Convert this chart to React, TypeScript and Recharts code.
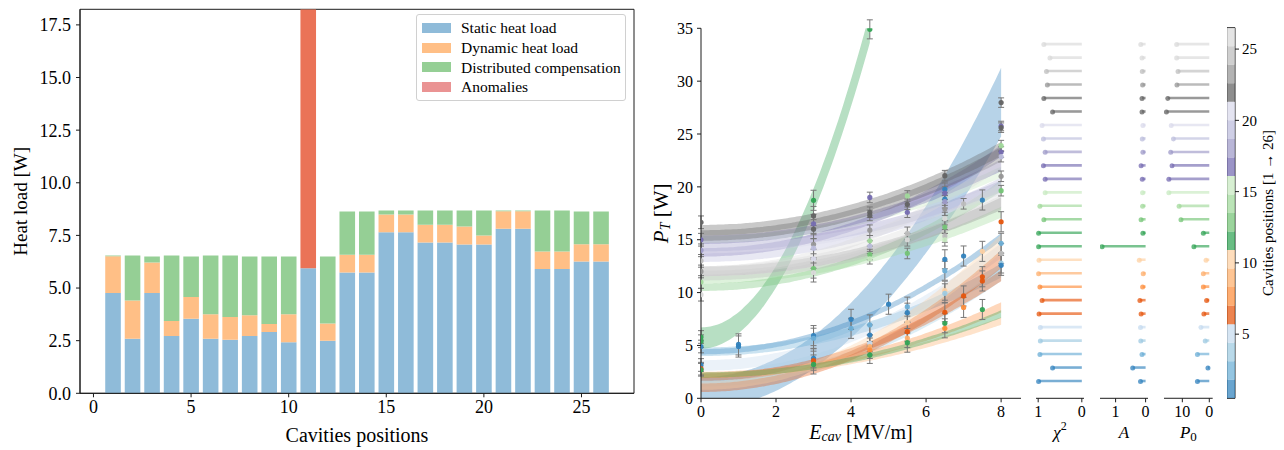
import React from "react";
import {
  ComposedChart,
  BarChart,
  Bar,
  Area,
  Scatter,
  ErrorBar,
  XAxis,
  YAxis,
  Legend,
  Cell,
  ReferenceArea,
} from "recharts";

const FONT = '"Liberation Serif", "DejaVu Serif", serif';
const INK = "#1c1c1c";

// ---------- left panel: heat load per cavity ----------
const cavities = [1, 2, 3, 4, 5, 6, 7, 8, 9, 10, 11, 12, 13, 14, 15, 16, 17, 18, 19, 20, 21, 22, 23, 24, 25, 26];
const staticLoad = [4.77, 2.59, 4.77, 2.72, 3.54, 2.59, 2.54, 2.72, 2.91, 2.43, 5.94, 2.5, 5.74, 5.74, 7.65, 7.65, 7.16, 7.16, 7.07, 7.07, 7.82, 7.82, 5.91, 5.91, 6.26, 6.26];
const dynamicLoad = [1.74, 1.82, 1.44, 0.71, 1.04, 1.16, 1.08, 0.99, 0.38, 1.32, 0, 0.82, 0.84, 0.84, 0.84, 0.84, 0.85, 0.85, 0.85, 0.42, 0.83, 0.83, 0.82, 0.82, 0.82, 0.82];
const compensation = [0.03, 2.13, 0.29, 3.11, 1.92, 2.79, 2.92, 2.79, 3.21, 2.75, 0, 3.18, 2.05, 2.05, 0.19, 0.19, 0.67, 0.67, 0.76, 1.19, 0.03, 0.03, 1.95, 1.95, 1.55, 1.55];
const anomalies = [0, 0, 0, 0, 0, 0, 0, 0, 0, 0, 12.5, 0, 0, 0, 0, 0, 0, 0, 0, 0, 0, 0, 0, 0, 0, 0];
const heatTicks = [0, 2.5, 5, 7.5, 10, 12.5, 15, 17.5];
const posTicks = [0, 5, 10, 15, 20, 25];

const seriesNames = ["Static heat load", "Dynamic heat load", "Distributed compensation", "Anomalies"];
const seriesColors = ["#8fbbd9", "#ffbf86", "#95cf95", "#ea9393"];
const anomalyOverDynamic = "#ea7357";

// ---------- right panel: fits P = P0 + A * E^2 ----------
const p0Fit = [4.4, 0.5, 4.4, 1.5, 3.1, 2.0, 1.0, 2.2, 2.2, 1.2, 5.7, 2.2, 10.5, 11.2, 15.0, 15.0, 13.8, 14.3, 13.3, 14.1, 15.9, 15.4, 12.0, 11.6, 12.1, 12.1];
const aFit = [0.17, 0.43, 0.12, 0.16, 0.17, 0.15, 0.19, 0.1, 0.08, 0.21, 1.45, 0.09, 0.15, 0.1, 0.1, 0.11, 0.15, 0.09, 0.11, 0.09, 0.12, 0.12, 0.1, 0.11, 0.12, 0.16];
const chi2Fit = [0.99, 0.67, 0.96, 0.95, 0.95, 0.98, 0.91, 0.96, 0.99, 0.98, 0.99, 0.99, 0.87, 0.96, 0.84, 0.84, 0.88, 0.84, 0.88, 0.91, 0.67, 0.87, 0.79, 0.81, 0.73, 0.87];
const p0Err = [0.25, 1.5, 0.4, 0.4, 0.5, 0.35, 0.4, 0.3, 0.25, 0.4, 1.0, 0.25, 0.35, 0.35, 0.35, 0.4, 0.4, 0.4, 0.4, 0.4, 0.5, 0.5, 0.45, 0.45, 0.4, 0.4];
const aErr = [0.004, 0.045, 0.008, 0.008, 0.008, 0.006, 0.012, 0.006, 0.004, 0.012, 0.05, 0.004, 0.006, 0.006, 0.006, 0.006, 0.006, 0.006, 0.006, 0.006, 0.007, 0.007, 0.006, 0.006, 0.006, 0.006];
const fitEnd = [8, 8, 8, 8, 8, 8, 8, 8, 8, 8, 4.5, 8, 8, 8, 8, 8, 8, 8, 8, 8, 8, 8, 8, 8, 8, 8];
const eGrid = Array.from({ length: 81 }, (_, i) => i / 10);
const eTicks = [0, 2, 4, 6, 8];
const pTicks = [0, 5, 10, 15, 20, 25, 30, 35];

// measured points: [cavity, E (MV/m), P (W), error (W)]
const measurements: [number, number, number, number][] = [
  [22, 0, 16.65, 0.6], [17, 0, 15.0, 0.6], [18, 0, 14.0, 0.6], [24, 0, 13.0, 0.6], [23, 0, 12.0, 0.6],
  [14, 0, 11.0, 0.6], [25, 0, 9.8, 0.6], [11, 0, 5.8, 0.6], [11, 0, 5.4, 0.6], [1, 0, 4.9, 0.6],
  [2, 0, 3.15, 0.6], [7, 0, 2.8, 0.6], [12, 0, 2.7, 0.6],
  [1, 1, 5.1, 1.0], [1, 1, 4.9, 1.0],
  [11, 3, 18.73, 0.95], [21, 3, 17.25, 0.9], [16, 3, 16.5, 0.9], [22, 3, 16.0, 0.9], [23, 3, 14.57, 0.9],
  [19, 3, 14.2, 0.9], [20, 3, 13.2, 0.9], [13, 3, 12.27, 0.9], [25, 3, 11.9, 0.9], [1, 3, 5.93, 0.95],
  [3, 3, 5.68, 0.95], [2, 3, 3.78, 0.9], [6, 3, 3.56, 0.9], [12, 3, 3.2, 0.9],
  [1, 4, 7.47, 0.95], [3, 4, 6.62, 0.95],
  [11, 4.5, 34.9, 0.9], [17, 4.5, 19.0, 0.5], [21, 4.5, 17.6, 0.5], [22, 4.5, 17.3, 0.5], [23, 4.5, 15.9, 0.5],
  [14, 4.5, 14.9, 0.5], [19, 4.5, 14.4, 0.5], [13, 4.5, 13.6, 0.5], [15, 4.5, 13.2, 0.5], [3, 4.5, 6.94, 0.95],
  [1, 4.5, 5.99, 0.95], [5, 4.5, 5.2, 0.8], [9, 4.5, 4.9, 0.8], [8, 4.5, 4.57, 0.8], [12, 4.5, 4.1, 0.8],
  [1, 5, 8.9, 0.95],
  [14, 5.5, 19.14, 0.5], [21, 5.5, 18.35, 0.5], [16, 5.5, 17.6, 0.5], [24, 5.5, 15.6, 0.6], [25, 5.5, 15.0, 0.6],
  [13, 5.5, 13.7, 0.5], [3, 5.5, 8.67, 0.9], [1, 5.5, 8.1, 0.9], [10, 5.5, 7.15, 0.9], [6, 5.5, 6.3, 0.9],
  [9, 5.5, 5.7, 0.9], [12, 5.5, 5.26, 0.9],
  [22, 6.5, 21.06, 0.5], [2, 6.5, 19.77, 0.6], [17, 6.5, 19.4, 0.6], [2, 6.5, 18.85, 0.6], [18, 6.5, 18.6, 0.6],
  [23, 6.5, 17.9, 0.6], [26, 6.5, 17.0, 0.6], [13, 6.5, 16.2, 0.6], [24, 6.5, 15.36, 0.6], [15, 6.5, 15.0, 0.6],
  [1, 6.5, 13.15, 0.9], [3, 6.5, 12.07, 0.9], [10, 6.5, 10.18, 0.9], [4, 6.5, 9.93, 0.9], [6, 6.5, 8.14, 0.9],
  [12, 6.5, 7.1, 0.9], [8, 6.5, 6.62, 0.9],
  [24, 7, 18.4, 0.5], [1, 7, 13.46, 0.95], [7, 7, 9.68, 0.95], [8, 7, 8.6, 0.95],
  [1, 7.5, 18.76, 0.95], [10, 7.5, 13.9, 0.95], [6, 7.5, 11.5, 0.95], [7, 7.5, 11.1, 0.95], [12, 7.5, 8.4, 0.95],
  [22, 8, 27.97, 0.45], [17, 8, 25.76, 0.45], [21, 8, 25.6, 0.45], [14, 8, 23.9, 0.5], [16, 8, 23.3, 0.5],
  [19, 8, 22.86, 0.5], [23, 8, 21.0, 0.5], [13, 8, 19.64, 0.5], [6, 8, 16.7, 0.95], [3, 8, 14.66, 0.95],
  [24, 8, 13.7, 0.95], [4, 8, 12.8, 0.95], [1, 8, 12.58, 0.95],
];

// tab20c
const tab20c = [
  "#3182bd", "#6baed6", "#9ecae1", "#c6dbef",
  "#e6550d", "#fd8d3c", "#fdae6b", "#fdd0a2",
  "#31a354", "#74c476", "#a1d99b", "#c7e9c0",
  "#756bb1", "#9e9ac8", "#bcbddc", "#dadaeb",
  "#636363", "#969696", "#bdbdbd", "#d9d9d9",
];
const cavColor = (c: number) => tab20c[Math.min(19, Math.floor(((c - 1) * 20) / 25))];
const cbTicks = [5, 10, 15, 20, 25];

// ---------- tables built from the arrays ----------
const barRows = cavities.map((c, i) => ({
  pos: c,
  static: staticLoad[i],
  dynamic: dynamicLoad[i],
  comp: compensation[i],
  anomaly: anomalies[i],
}));

const bandRows = eGrid.map((e) => {
  const row: any = { E: e };
  cavities.forEach((c, i) => {
    if (e > fitEnd[i] + 1e-9) return;
    const mid = p0Fit[i] + aFit[i] * e * e;
    const hw = Math.sqrt(p0Err[i] ** 2 + (aErr[i] * e * e) ** 2);
    row[`b${c}`] = [mid - hw, mid + hw];
  });
  return row;
});

const pointRows = measurements.map(([cav, E, P, err]) => ({ cav, E, P, err }));

const cbRow: any = { name: "cb", base: 0.5 };
tab20c.forEach((_, k) => {
  cbRow[`s${k}`] = (26.5 - 0.5) / tab20c.length;
});

// ---------- small helpers ----------
const tickStyle = (size: number) => ({ fontSize: size, fill: "#000", fontFamily: FONT });

const VTitle = (props: any) => {
  const { viewBox, dx, size, node } = props;
  const cx = viewBox.x + dx;
  const cy = viewBox.y + viewBox.height / 2;
  return (
    <text x={cx} y={cy} transform={`rotate(-90 ${cx} ${cy})`} textAnchor="middle" dominantBaseline="central" fontSize={size} fontFamily={FONT} fill="#000">
      {node}
    </text>
  );
};

const HTitle = (props: any) => {
  const { viewBox, dy, size, node } = props;
  const cx = viewBox.x + viewBox.width / 2;
  const cy = viewBox.y + dy;
  return (
    <text x={cx} y={cy} textAnchor="middle" dominantBaseline="central" fontSize={size} fontFamily={FONT} fill="#000">
      {node}
    </text>
  );
};

const LegendBox = () => (
  <div
    style={{
      border: "1px solid #d0d0d0",
      borderRadius: 3,
      background: "rgba(255,255,255,0.85)",
      padding: "3px 4px 3px 5px",
      fontFamily: FONT,
      fontSize: 15.5,
      lineHeight: "19.8px",
      width: 199,
    }}
  >
    {seriesNames.map((name, i) => (
      <div key={name} style={{ display: "flex", alignItems: "center", whiteSpace: "nowrap" }}>
        <span style={{ display: "inline-block", width: 29, height: 10, background: seriesColors[i], marginRight: 10, flex: "none" }} />
        <span>{name}</span>
      </div>
    ))}
  </div>
);

const CavityDot = (props: any) => {
  const { cx, cy, payload } = props;
  if (cx == null || cy == null) return null;
  return <circle cx={cx} cy={cy} r={2.6} fill={cavColor(payload.cav)} fillOpacity={0.95} />;
};

const PanelDot = (props: any) => {
  const { cx, cy, payload } = props;
  if (cx == null || cy == null) return null;
  return <circle cx={cx} cy={cy} r={2.5} fill={cavColor(payload.cav)} fillOpacity={0.75} />;
};

function FitPanel({ values, domain, ticks, left, plotWidth, title }: any) {
  const rows = cavities.map((c, i) => ({ cav: c, v: values[i] }));
  return (
    <div style={{ position: "absolute", left: left - 12, top: 0 }}>
      <ComposedChart
        layout="vertical"
        width={plotWidth + 24}
        height={450}
        data={rows}
        margin={{ top: 27.7, right: 12, bottom: 0, left: 12 }}
      >
        <XAxis
          type="number"
          reversed
          domain={domain}
          ticks={ticks}
          allowDataOverflow
          height={51.7}
          tickSize={4}
          tickMargin={3}
          tick={tickStyle(16)}
          stroke={INK}
          label={<HTitle dy={34} size={17} node={title} />}
        />
        <YAxis type="number" dataKey="cav" domain={[-0.25, 27.25]} reversed hide width={0} />
        <Bar dataKey="v" barSize={2.6} isAnimationActive={false}>
          {rows.map((r) => (
            <Cell key={r.cav} fill={cavColor(r.cav)} fillOpacity={0.65} />
          ))}
        </Bar>
        <Scatter dataKey="v" isAnimationActive={false} shape={<PanelDot />} />
      </ComposedChart>
    </div>
  );
}

export default function App() {
  return (
    <div style={{ position: "absolute", left: 0, top: 0, width: 1284, height: 450, background: "#fff", fontFamily: FONT }}>
      {/* left: stacked heat loads */}
      <div style={{ position: "absolute", left: 0, top: 0 }}>
        <ComposedChart width={640} height={450} data={barRows} margin={{ top: 9.3, right: 6, bottom: 0, left: 0 }}>
          <XAxis
            dataKey="pos"
            type="number"
            domain={[-0.69, 27.69]}
            ticks={posTicks}
            allowDataOverflow
            height={56.7}
            tickSize={4}
            tickMargin={3}
            tick={tickStyle(18)}
            stroke={INK}
            label={<HTitle dy={42} size={20} node="Cavities positions" />}
          />
          <YAxis
            type="number"
            domain={[0, 18.24]}
            ticks={heatTicks}
            allowDataOverflow
            width={80}
            tickSize={4}
            tickMargin={5}
            tick={tickStyle(18)}
            tickFormatter={(v: number) => v.toFixed(1)}
            stroke={INK}
            label={<VTitle dx={21} size={19} node="Heat load [W]" />}
          />
          <Bar dataKey="static" stackId="h" fill={seriesColors[0]} barSize={15.6} isAnimationActive={false} />
          <Bar dataKey="dynamic" stackId="h" fill={seriesColors[1]} barSize={15.6} isAnimationActive={false} />
          <Bar dataKey="comp" stackId="h" fill={seriesColors[2]} barSize={15.6} isAnimationActive={false} />
          <Bar dataKey="anomaly" stackId="h" fill={seriesColors[3]} barSize={15.6} isAnimationActive={false}>
            {barRows.map((r) => (
              <Cell key={r.pos} fill={r.anomaly > 0 ? anomalyOverDynamic : seriesColors[3]} />
            ))}
          </Bar>
          <ReferenceArea x1={-0.69} x2={27.69} y1={0} y2={18.24} fill="none" stroke={INK} strokeWidth={1} />
          <Legend
            layout="vertical"
            verticalAlign="middle"
            align="center"
            wrapperStyle={{ left: 416, top: 14, width: 212 }}
            content={() => <LegendBox />}
          />
        </ComposedChart>
      </div>

      {/* right: P_T vs E_cav with fit bands */}
      <div style={{ position: "absolute", left: 640, top: 0 }}>
        <ComposedChart width={400} height={450} data={bandRows} margin={{ top: 28.3, right: 19, bottom: 0, left: 0 }}>
          <XAxis
            dataKey="E"
            type="number"
            domain={[0, 8.53]}
            ticks={eTicks}
            allowDataOverflow
            height={51.7}
            tickSize={4}
            tickMargin={3}
            tick={tickStyle(16)}
            stroke={INK}
            label={
              <HTitle
                dy={34}
                size={20}
                node={
                  <>
                    <tspan fontStyle="italic">E</tspan>
                    <tspan fontStyle="italic" fontSize={14} dy={4}>cav</tspan>
                    <tspan dy={-4}> [MV/m]</tspan>
                  </>
                }
              />
            }
          />
          <YAxis
            type="number"
            domain={[0, 35]}
            ticks={pTicks}
            allowDataOverflow
            width={61}
            tickSize={4}
            tickMargin={4}
            tick={tickStyle(16)}
            stroke={INK}
            label={
              <VTitle
                dx={21}
                size={21}
                node={
                  <>
                    <tspan fontStyle="italic">P</tspan>
                    <tspan fontStyle="italic" fontSize={14} dy={4}>T</tspan>
                    <tspan dy={-4}> [W]</tspan>
                  </>
                }
              />
            }
          />
          {cavities.map((c) => (
            <Area
              key={c}
              dataKey={`b${c}`}
              type="monotone"
              stroke="none"
              fill={cavColor(c)}
              fillOpacity={0.35}
              dot={false}
              activeDot={false}
              isAnimationActive={false}
            />
          ))}
          <Scatter data={pointRows} dataKey="P" isAnimationActive={false} shape={<CavityDot />}>
            <ErrorBar dataKey="err" direction="y" width={3} stroke="#777" strokeWidth={1} />
          </Scatter>
        </ComposedChart>
      </div>

      {/* fit parameter panels */}
      <FitPanel
        values={chi2Fit}
        domain={[-0.05, 1.05]}
        ticks={[1, 0]}
        left={1036}
        plotWidth={48}
        title={
          <>
            <tspan fontStyle="italic">χ</tspan>
            <tspan fontSize={12} dy={-6}>2</tspan>
          </>
        }
      />
      <FitPanel
        values={aFit}
        domain={[-0.08, 1.52]}
        ticks={[1, 0]}
        left={1100}
        plotWidth={48}
        title={<tspan fontStyle="italic">A</tspan>}
      />
      <FitPanel
        values={p0Fit}
        domain={[-1.26, 16.8]}
        ticks={[10, 0]}
        left={1164}
        plotWidth={48.7}
        title={
          <>
            <tspan fontStyle="italic">P</tspan>
            <tspan fontSize={13} dy={4}>0</tspan>
          </>
        }
      />

      {/* colorbar */}
      <div style={{ position: "absolute", left: 1227, top: 0 }}>
        <BarChart width={56} height={450} data={[cbRow]} barCategoryGap={0} margin={{ top: 27.7, right: 0, bottom: 51.7, left: 0 }}>
          <XAxis dataKey="name" type="category" hide />
          <YAxis
            orientation="right"
            type="number"
            domain={[0.5, 26.5]}
            ticks={cbTicks}
            allowDataOverflow
            width={48}
            tickSize={4}
            tickMargin={3}
            tick={tickStyle(15)}
            axisLine={false}
            stroke={INK}
            label={<VTitle dx={33} size={15} node="Cavities positions [1 → 26]" />}
          />
          <Bar dataKey="base" stackId="cb" fill="none" isAnimationActive={false} />
          {tab20c.map((col, k) => (
            <Bar key={k} dataKey={`s${k}`} stackId="cb" fill={col} fillOpacity={0.72} isAnimationActive={false} />
          ))}
          <ReferenceArea y1={0.5} y2={26.5} fill="none" stroke={INK} strokeWidth={1} />
        </BarChart>
      </div>
    </div>
  );
}
